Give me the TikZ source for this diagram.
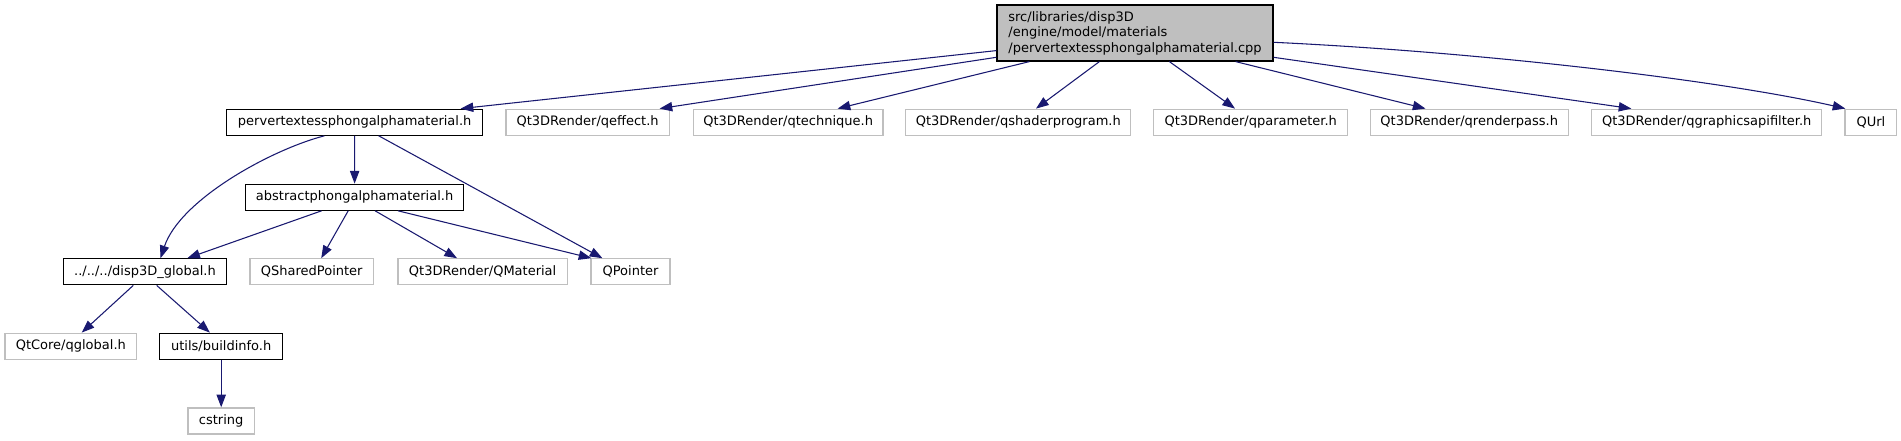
\documentclass[tikz,border=0pt]{standalone}
\usepackage{fontspec}
\setmainfont{DejaVu Sans}
\usetikzlibrary{arrows.meta,calc}
\definecolor{edgeblue}{HTML}{191970}
\definecolor{greyline}{HTML}{BFBFBF}
\definecolor{rootfill}{HTML}{BFBFBF}
\begin{document}
\begin{tikzpicture}[x=0.75pt,y=-0.75pt,
  box/.style={rectangle, draw=black, line width=0.9pt, inner sep=0pt, minimum height=19.5pt,
    font=\fontsize{9.75pt}{11.6pt}\selectfont},
  docbox/.style={box, draw=black},
  extbox/.style={box, draw=greyline},
  rootbox/.style={box, draw=black, fill=rootfill, align=left, minimum height=42pt},
  edge/.style={draw=edgeblue, line width=0.8pt, -{Triangle[length=9.5pt,width=7pt]}}
]
\useasboundingbox (0,0) rectangle (1901,440);

% root
\node[rootbox, minimum width=207pt] (root) at (1135,33) {src/libraries/disp3D\\/engine/model/materials\\/pervertextessphongalphamaterial.cpp};

% row 1
\node[docbox, minimum width=192pt] (perv) at (354.7,122.2) {pervertextessphongalphamaterial.h};
\node[extbox, minimum width=122.5pt] (qeffect) at (587.65,122.2) {Qt3DRender/qeffect.h};
\node[extbox, minimum width=142.3pt] (qtech) at (788.15,122.2) {Qt3DRender/qtechnique.h};
\node[extbox, minimum width=168.75pt] (qshader) at (1018.3,122.2) {Qt3DRender/qshaderprogram.h};
\node[extbox, minimum width=145.65pt] (qparam) at (1250.7,122.2) {Qt3DRender/qparameter.h};
\node[extbox, minimum width=148.65pt] (qrender) at (1469.2,122.2) {Qt3DRender/qrenderpass.h};
\node[extbox, minimum width=172.5pt] (qgraph) at (1706.7,122.2) {Qt3DRender/qgraphicsapifilter.h};
\node[extbox, minimum width=38.8pt] (qurl) at (1870.85,122.2) {QUrl};

% row 2
\node[docbox, minimum width=163.35pt] (abst) at (354.6,197.2) {abstractphongalphamaterial.h};

% row 3
\node[docbox, minimum width=122.55pt] (glob) at (145,271.8) {../../../disp3D\_global.h};
\node[extbox, minimum width=92.6pt] (qshared) at (311.75,271.8) {QSharedPointer};
\node[extbox, minimum width=127pt] (qmat) at (482.65,271.8) {Qt3DRender/QMaterial};
\node[extbox, minimum width=59.25pt] (qptr) at (630.5,271.8) {QPointer};

% row 4
\node[extbox, minimum width=98.8pt] (qglobal) at (70.85,346.2) {QtCore/qglobal.h};
\node[docbox, minimum width=92pt] (build) at (221.2,346.2) {utils/buildinfo.h};

% row 5
\node[extbox, minimum width=49.95pt] (cstr) at (221.2,420.9) {cstring};

% edges from root
\draw[edge] ($(root.south west)+(0,-11)$) -- ($(perv.north east)+(-22.7,0)$);
\draw[edge] ($(root.south west)+(0,-4.3)$) -- ($(qeffect.north east)+(-10.3,0)$);
\draw[edge] ($(root.south west)+(33,0)$) -- ($(qtech.north east)+(-46,0)$);
\draw[edge] ($(root.south west)+(103,0)$) -- ($(qshader.north)+(17.7,0)$);
\draw[edge] ($(root.south west)+(173,0)$) -- ($(qparam.north)+(-15.7,0)$);
\draw[edge] ($(root.south east)+(-38,0)$) -- ($(qrender.north west)+(56,0)$);
\draw[edge] ($(root.south east)+(0,-4.3)$) -- ($(qgraph.north west)+(40.3,0)$);
\draw[edge] ($(root.south east)+(0,-19.3)$) .. controls (1480,52) and (1720,80) .. ($(qurl.north west)+(1,0)$);

% edges from pervertex
\draw[edge] ($(perv.south west)+(98.3,0)$) .. controls (270,150) and (180,200) .. ($(glob.north)+(15.5,0)$);
\draw[edge] (perv.south) -- (abst.north);
\draw[edge] ($(perv.south)+(24,0)$) -- ($(qptr.north west)+(12,0)$);

% edges from abstract
\draw[edge] ($(abst.south)+(-33,0)$) -- ($(glob.north)+(42.3,0)$);
\draw[edge] ($(abst.south)+(-6.4,0)$) -- ($(qshared.north)+(9.5,0)$);
\draw[edge] ($(abst.south)+(20.5,0)$) -- ($(qmat.north)+(-25.6,0)$);
\draw[edge] ($(abst.south)+(43.4,0)$) -- ($(qptr.north west)+(1,0)$);

% edges from disp3D_global
\draw[edge] ($(glob.south)+(-11.7,0)$) -- ($(qglobal.north)+(10.85,0)$);
\draw[edge] ($(glob.south)+(11.7,0)$) -- ($(build.north)+(-11.35,0)$);

% buildinfo -> cstring
\draw[edge] (build.south) -- (cstr.north);
\end{tikzpicture}
\end{document}
